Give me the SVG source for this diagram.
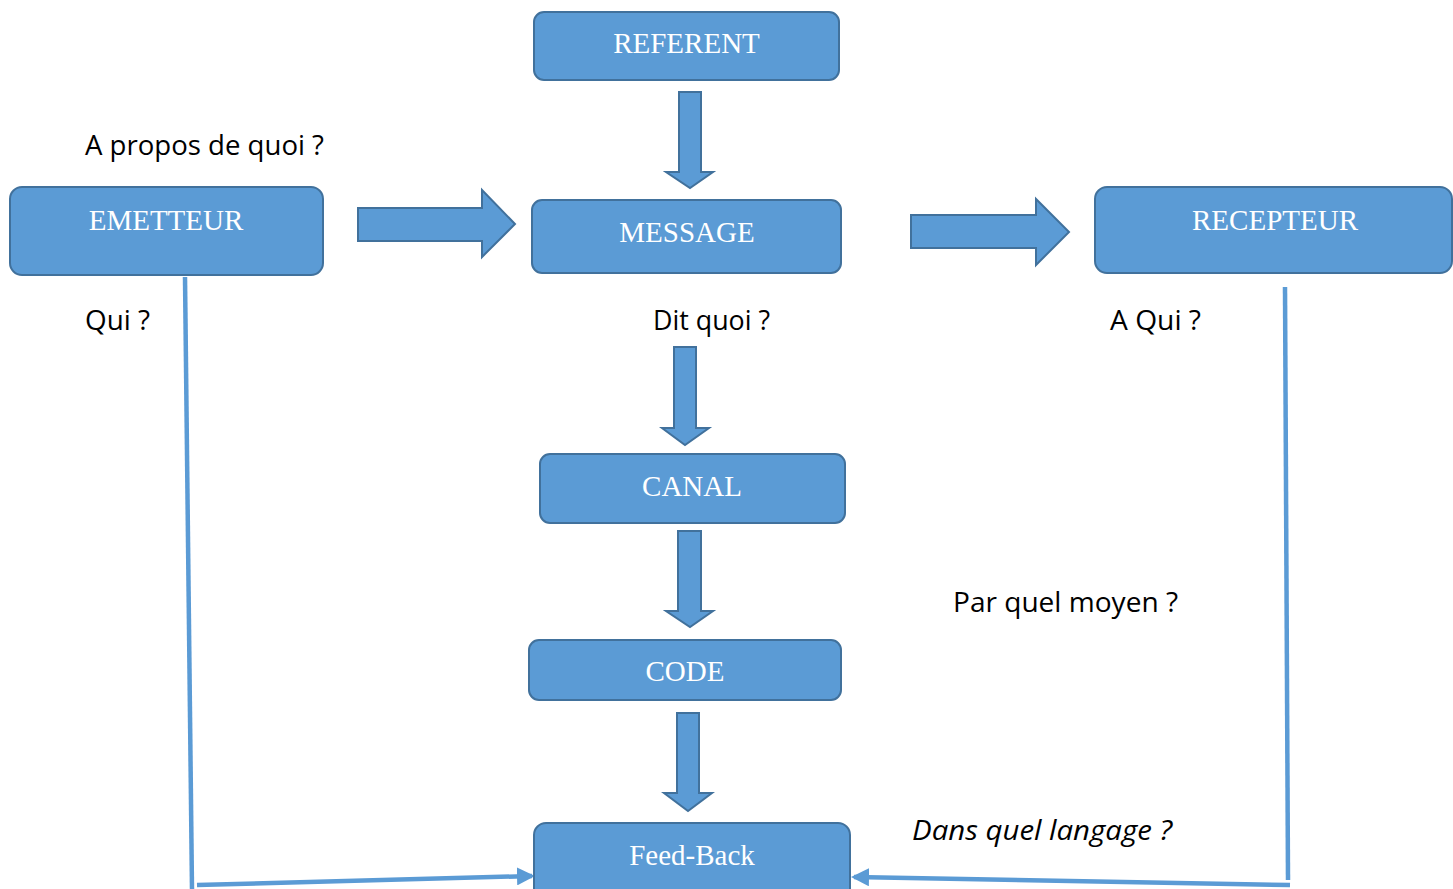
<svg xmlns="http://www.w3.org/2000/svg" width="1453" height="889" viewBox="0 0 1453 889">
  <defs>
    <style>
      .box { fill: #5B9BD5; stroke: #41719C; stroke-width: 2; }
      .blk { fill: #5B9BD5; stroke: #41719C; stroke-width: 2; stroke-linejoin: miter; }
      .title { font-family: "Liberation Serif", "Times New Roman", serif; font-size: 29px; fill: #FFFFFF; text-anchor: middle; }
      .q { font-family: "Open Sans", "Noto Sans", "Liberation Sans", sans-serif; font-size: 27px; fill: #000000; }
      .link { fill: none; stroke: #5B9BD5; stroke-width: 4.5; }
    </style>
    <marker id="head" viewBox="0 0 18 18" refX="15" refY="9" markerWidth="18" markerHeight="18" markerUnits="userSpaceOnUse" orient="auto">
      <path d="M0,0 L18,9 L0,18 Z" fill="#5B9BD5"/>
    </marker>
  </defs>

  <rect width="1453" height="889" fill="#FFFFFF"/>

  <!-- connectors: block arrows and feedback lines -->
  <g id="connectors">
    <!-- REFERENT -> MESSAGE -->
    <path class="blk" d="M679,92 H701 V172 H713 L690,188 L666,172 H679 Z"/>
    <!-- EMETTEUR -> MESSAGE -->
    <path class="blk" d="M358,208 H482 V190 L515,224 L482,257 V241 H358 Z"/>
    <!-- MESSAGE -> RECEPTEUR -->
    <path class="blk" d="M911,215 H1036 V199 L1069,232 L1036,265 V248 H911 Z"/>
    <!-- MESSAGE -> CANAL -->
    <path class="blk" d="M674,347 H696 V428 H709 L685,445 L662,428 H674 Z"/>
    <!-- CANAL -> CODE -->
    <path class="blk" d="M678,531 H701 V611 H713 L690,627 L666,611 H678 Z"/>
    <!-- CODE -> Feed-Back -->
    <path class="blk" d="M677,713 H699 V793 H712 L688,811 L664,793 H677 Z"/>

    <!-- feedback from EMETTEUR -->
    <path class="link" d="M185,277 L192,889"/>
    <path class="link" d="M197,885 L532,876" marker-end="url(#head)"/>
    <!-- feedback from RECEPTEUR -->
    <path class="link" d="M1285,287 L1288,880"/>
    <path class="link" d="M1290,885 L854,877" marker-end="url(#head)"/>
  </g>

  <g id="referent">
    <rect class="box" x="534" y="12" width="305" height="68" rx="10"/>
    <text class="title" x="686.5" y="53">REFERENT</text>
  </g>

  <g id="emetteur">
    <rect class="box" x="10" y="187" width="313" height="88" rx="12"/>
    <text class="title" x="166" y="230">EMETTEUR</text>
  </g>

  <g id="message">
    <rect class="box" x="532" y="200" width="309" height="73" rx="10"/>
    <text class="title" x="687" y="242">MESSAGE</text>
  </g>

  <g id="recepteur">
    <rect class="box" x="1095" y="187" width="357" height="86" rx="12"/>
    <text class="title" x="1275" y="230">RECEPTEUR</text>
  </g>

  <g id="canal">
    <rect class="box" x="540" y="454" width="305" height="69" rx="10"/>
    <text class="title" x="692" y="496">CANAL</text>
  </g>

  <g id="code">
    <rect class="box" x="529" y="640" width="312" height="60" rx="10"/>
    <text class="title" x="685" y="681">CODE</text>
  </g>

  <g id="feedback">
    <rect class="box" x="534" y="823" width="316" height="90" rx="12"/>
    <text class="title" x="692" y="865">Feed-Back</text>
  </g>

  <!-- question labels -->
  <g id="labels">
    <text class="q" x="85" y="155" textLength="239" lengthAdjust="spacingAndGlyphs">A propos de quoi ?</text>
    <text class="q" x="85" y="330" textLength="65" lengthAdjust="spacingAndGlyphs">Qui ?</text>
    <text class="q" x="653" y="330" textLength="117" lengthAdjust="spacingAndGlyphs">Dit quoi ?</text>
    <text class="q" x="1110" y="330" textLength="91" lengthAdjust="spacingAndGlyphs">A Qui ?</text>
    <text class="q" x="953" y="612" textLength="225" lengthAdjust="spacingAndGlyphs">Par quel moyen ?</text>
    <text class="q" x="912" y="840" font-style="italic" textLength="260" lengthAdjust="spacingAndGlyphs">Dans quel langage ?</text>
  </g>
</svg>
